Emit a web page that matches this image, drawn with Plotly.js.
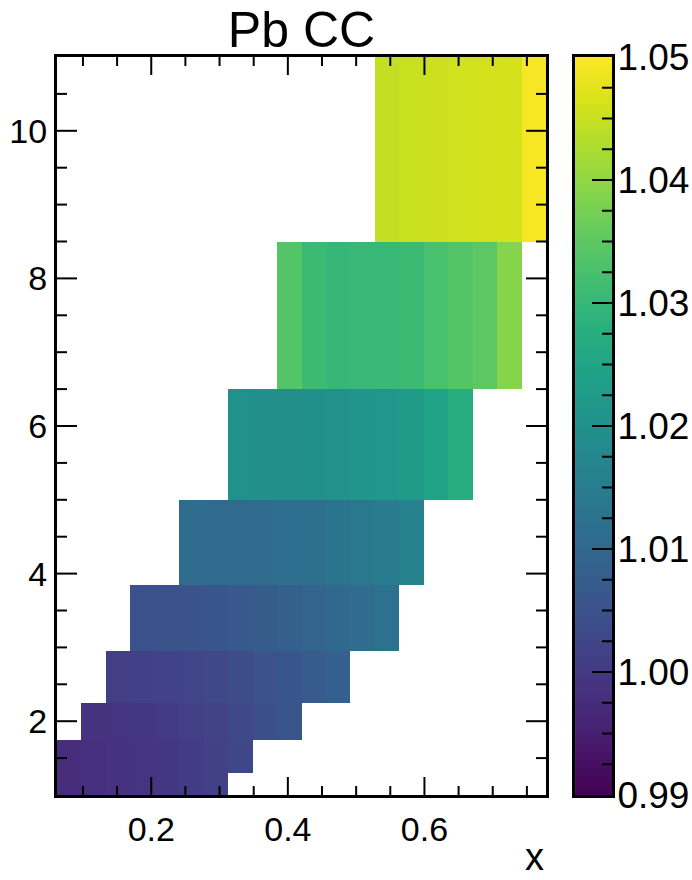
<!DOCTYPE html>
<html>
<head>
<meta charset="utf-8">
<script src="https://cdn.plot.ly/plotly-3.0.1.min.js"></script>
<style>html,body{margin:0;padding:0;background:#fff;}#plot{width:692px;height:880px;}</style>
</head>
<body>
<div id="plot"></div>
<script>
// Bin edges in x (20 bins) and y (9 rows)
const xEdges = [0.062, 0.0978, 0.1336, 0.1694, 0.2052, 0.241, 0.2768, 0.3126, 0.3484, 0.3842,
                0.42, 0.4558, 0.4916, 0.5274, 0.5632, 0.599, 0.6348, 0.6706, 0.7064, 0.7422, 0.778];
const yEdges = [1, 1.3, 1.75, 2.25, 2.95, 3.85, 5, 6.5, 8.5, 11];

// Cell values per row (null = empty bin)
const n = null;
const row0 = [0.9975, 0.998, 0.9985, 0.999, 0.9995, 1.0005, 1.0015, n, n, n, n, n, n, n, n, n, n, n, n, n];
const row1 = [0.9975, 0.998, 0.9985, 0.999, 0.9995, 1.0005, 1.0015, 1.0028, n, n, n, n, n, n, n, n, n, n, n, n];
const row2 = [n, 0.9988, 0.9992, 0.9996, 1.0002, 1.001, 1.002, 1.003, 1.0045, 1.006, n, n, n, n, n, n, n, n, n, n];
const row3 = [n, n, 1.001, 1.0013, 1.0017, 1.0023, 1.003, 1.004, 1.005, 1.006, 1.007, 1.0082, n, n, n, n, n, n, n, n];
const row4 = [n, n, n, 1.0048, 1.0052, 1.0056, 1.006, 1.0066, 1.0073, 1.008, 1.009, 1.010, 1.011, 1.0125, n, n, n, n, n, n];
const row5 = [n, n, n, n, n, 1.011, 1.0105, 1.0105, 1.011, 1.0115, 1.012, 1.013, 1.014, 1.015, 1.0165, n, n, n, n, n];
const row6 = [n, n, n, n, n, n, n, 1.0200, 1.0195, 1.0195, 1.0198, 1.0202, 1.0208, 1.0215, 1.0225, 1.0245, 1.0275, n, n, n];
const row7 = [n, n, n, n, n, n, n, n, n, 1.034, 1.031, 1.030, 1.0302, 1.0305, 1.031, 1.0325, 1.034, 1.035, 1.039, n];
const row8 = [n, n, n, n, n, n, n, n, n, n, n, n, n, 1.0446, 1.0452, 1.0455, 1.0458, 1.046, 1.0462, 1.0494];

const zRows = [row0, row1, row2, row3, row4, row5, row6, row7, row8];
const zMin = 0.99, zMax = 1.05;
const colorTicks = [0.99, 1.00, 1.01, 1.02, 1.03, 1.04, 1.05];
const xTicks = [0.2, 0.4, 0.6];
const yTicks = [2, 4, 6, 8, 10];

const fontFam = 'Liberation Sans, Arial, Helvetica, sans-serif';

// paper spans from x=57px to x=692px (635px wide)
const plotRight = 0.7701;   // plot area right edge (paper fraction)
const cbLeft = 0.8158;      // colour scale left edge
const cbRight = 0.8740;     // colour scale right edge

const mapTrace = {
  type: 'heatmap', x: xEdges, y: yEdges, z: zRows,
  zmin: zMin, zmax: zMax, colorscale: 'Viridis', showscale: false,
  hoverongaps: false, xaxis: 'x', yaxis: 'y'
};

// colour scale panel: the two ends of the scale, smoothly interpolated
const scaleTrace = {
  type: 'heatmap', x: [0, 1], y: [zMin, zMax], z: [[zMin, zMin], [zMax, zMax]],
  zmin: zMin, zmax: zMax, zsmooth: 'best', colorscale: 'Viridis', showscale: false,
  xaxis: 'x2', yaxis: 'y2', hoverinfo: 'skip'
};

// ---- tick marks (drawn as shapes so they stay visible above the filled cells) ----
function stepList(start, stop, step) {
  const out = [];
  for (let i = 0; start + i * step <= stop + 1e-9; i++) out.push(+(start + i * step).toFixed(6));
  return out;
}
function isIn(v, arr) { return arr.some(a => Math.abs(a - v) < 1e-9); }
const line = {color: '#000', width: 2};
const shapes = [];
function xTick(v, len) {
  shapes.push({type: 'line', layer: 'above', xref: 'x', yref: 'paper', ysizemode: 'pixel', yanchor: 0,
               x0: v, x1: v, y0: 0, y1: len, line: line});
  shapes.push({type: 'line', layer: 'above', xref: 'x', yref: 'paper', ysizemode: 'pixel', yanchor: 1,
               x0: v, x1: v, y0: 0, y1: -len, line: line});
}
function yTick(v, len) {
  shapes.push({type: 'line', layer: 'above', xref: 'paper', yref: 'y', xsizemode: 'pixel', xanchor: 0,
               x0: 0, x1: len, y0: v, y1: v, line: line});
  shapes.push({type: 'line', layer: 'above', xref: 'paper', yref: 'y', xsizemode: 'pixel', xanchor: plotRight,
               x0: 0, x1: -len, y0: v, y1: v, line: line});
}
function cTick(v, len) {
  shapes.push({type: 'line', layer: 'above', xref: 'paper', yref: 'y2', xsizemode: 'pixel', xanchor: cbRight,
               x0: 0, x1: -len, y0: v, y1: v, line: line});
}
xTicks.forEach(v => xTick(v, 18));
stepList(0.1, 0.75, 0.05).filter(v => !isIn(v, xTicks)).forEach(v => xTick(v, 9));
yTicks.forEach(v => yTick(v, 20));
stepList(1.5, 10.5, 0.5).filter(v => !isIn(v, yTicks)).forEach(v => yTick(v, 10));
colorTicks.slice(1, -1).forEach(v => cTick(v, 20));
stepList(0.9925, 1.0475, 0.0025).filter(v => !isIn(v, colorTicks)).forEach(v => cTick(v, 10));

const axisCommon = {
  showgrid: false, zeroline: false,
  showline: true, linewidth: 3, linecolor: '#000', mirror: true,
  ticks: '', tickfont: {family: fontFam, size: 34, color: '#000'}
};

const layout = {
  width: 692, height: 880,
  margin: {l: 57, r: 0, t: 57, b: 85, autoexpand: false},
  paper_bgcolor: '#fff', plot_bgcolor: 'rgba(0,0,0,0)', showlegend: false,
  title: {text: 'Pb CC', font: {family: fontFam, size: 50, color: '#000'},
          x: plotRight / 2, xref: 'paper', xanchor: 'center', y: 0.966, yref: 'container', yanchor: 'middle'},
  xaxis: Object.assign({}, axisCommon, {
    domain: [0, plotRight], anchor: 'y',
    range: [xEdges[0], xEdges[xEdges.length - 1]],
    tickvals: xTicks, ticktext: xTicks.map(v => v.toFixed(1)), ticklabelstandoff: 2
  }),
  yaxis: Object.assign({}, axisCommon, {
    domain: [0, 1], anchor: 'x',
    range: [yEdges[0], yEdges[yEdges.length - 1]], tickvals: yTicks
  }),
  xaxis2: {
    domain: [cbLeft, cbRight], anchor: 'y2', range: [0, 1],
    showgrid: false, zeroline: false, showticklabels: false, ticks: '',
    showline: true, linewidth: 3, linecolor: '#000', mirror: true
  },
  yaxis2: {
    domain: [0, 1], anchor: 'x2', side: 'right', range: [zMin, zMax],
    tickvals: colorTicks, ticktext: colorTicks.map(v => v.toFixed(2)),
    showgrid: false, zeroline: false, showline: true, linewidth: 3, linecolor: '#000', mirror: true,
    ticks: '', ticklabelstandoff: -5,
    tickfont: {family: fontFam, size: 37, color: '#000'}
  },
  shapes: shapes,
  annotations: [{
    text: 'x', xref: 'paper', yref: 'paper', x: plotRight, y: -0.084, xanchor: 'right', yanchor: 'middle',
    showarrow: false, font: {family: fontFam, size: 38, color: '#000'}
  }]
};

Plotly.newPlot('plot', [mapTrace, scaleTrace], layout, {displayModeBar: false, staticPlot: true});
</script>
</body>
</html>
